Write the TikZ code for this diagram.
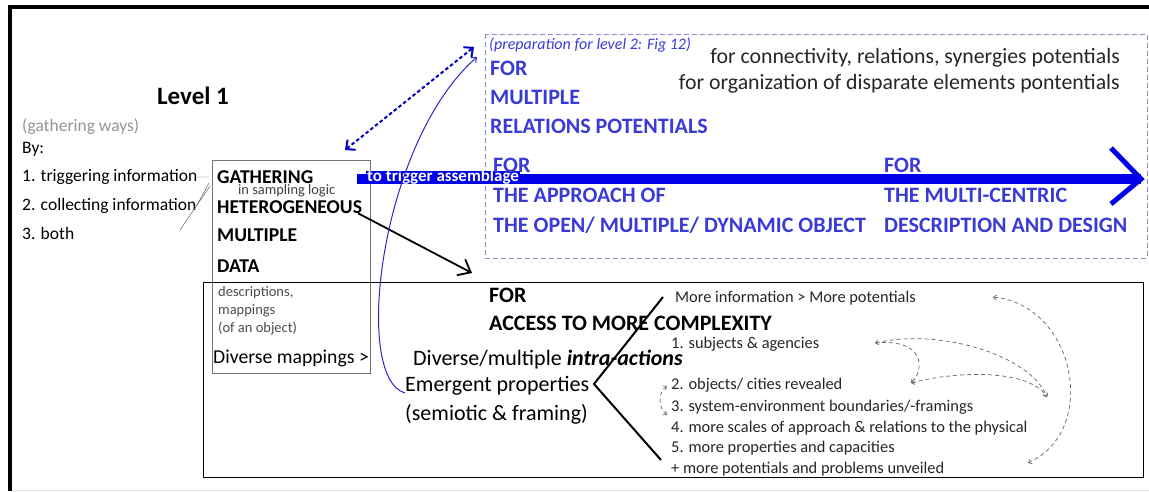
\documentclass[tikz,border=0pt]{standalone}
\usepackage{fontspec}
\setmainfont{Carlito}
\usetikzlibrary{arrows.meta,positioning,calc}
\definecolor{barblue}{RGB}{0,0,232}
\definecolor{capblue}{RGB}{58,58,214}
\definecolor{boxdash}{RGB}{140,140,200}
\definecolor{curveblue}{RGB}{40,40,200}
\tikzset{
    txt/.style={anchor=base west, inner sep=0pt, font=\fontsize{17.5}{20}\selectfont},
    caps/.style={txt, font=\fontsize{22}{25}\selectfont\bfseries},
    bluecaps/.style={caps, text=capblue},
    smalltxt/.style={txt, font=\fontsize{14.5}{17}\selectfont, text=black!70},
    itemtxt/.style={txt, font=\fontsize{16.4}{19}\selectfont, text=black!85},
    bigtxt/.style={txt, font=\fontsize{22}{25}\selectfont},
    hint/.style={thin, black!70},
    link/.style={-{Straight Barb[length=11pt, width=18pt]}, line width=1.8pt},
    relarc/.style={{Straight Barb[length=3pt,width=5pt]}-{Straight Barb[length=3pt,width=5pt]}, dash pattern=on 4pt off 3pt, black!60, line width=0.7pt},
    relarcone/.style={relarc, -{Straight Barb[length=3pt,width=5pt]}}
}
\begin{document}
\begin{tikzpicture}[x=1pt, y=-1pt]
    \useasboundingbox (0,0) rectangle (1149,492);
    % frame
    \draw[line width=4pt] (10,491) -- (10,7) -- (1149,7);
    \draw[black!12, line width=1pt] (12,490.5) -- (1149,490.5);

    % level 1, gathering ways
    \node[txt, anchor=base, font=\fontsize{25}{29}\selectfont\bfseries] (lvl) at (193,105) {Level 1};
    \node[txt, text=black!42] (ways) at (22,131.5) {(gathering ways)};
    \node[txt] (by) at (22,153.5) {By:};
    \node[txt] (way1) at (22,181.5) {1. triggering information};
    \node[txt] (way2) at (22,210.5) {2. collecting information};
    \node[txt] (way3) at (22,239.5) {3. both};

    % boxes
    \node[draw=black!55, line width=1pt, anchor=north west, inner sep=0pt,
          minimum width=158pt, minimum height=213pt] (gbox) at (212,160) {};
    \node[draw, line width=1.2pt, anchor=north west, inner sep=0pt,
          minimum width=940pt, minimum height=195pt] (lbox) at (203,282) {};
    \draw[boxdash, line width=0.9pt, dash pattern=on 5pt off 3pt] (485,34) rectangle (1147,258);

    \node[caps, font=\fontsize{19.6}{22}\selectfont\bfseries] (gath) at (217,183) {GATHERING};
    \node[txt, font=\fontsize{14.4}{16}\selectfont, text=black!75] (samp) at (238,194.5) {in sampling logic};
    \node[caps, font=\fontsize{19.6}{22}\selectfont\bfseries] (hetero) at (217,213) {HETEROGENEOUS};
    \node[caps, font=\fontsize{19.6}{22}\selectfont\bfseries] (multi) at (217,241) {MULTIPLE};
    \node[caps, font=\fontsize{19.6}{22}\selectfont\bfseries] (data) at (217,272) {DATA};
    \node[smalltxt] (desc) at (218,296.5) {descriptions,};
    \node[smalltxt] (mapp) at (218,314.5) {mappings};
    \node[smalltxt] (obj) at (218,332.5) {(of an object)};
    \node[txt, font=\fontsize{19.7}{22}\selectfont] (divm) at (213,363) {Diverse mappings >};

    \coordinate (g1) at (209,177);
    \coordinate (g2) at (209,183);
    \coordinate (g3) at (210,186);
    \coordinate (w3) at (180,230);
    \draw[hint] (way1.east) -- (g1);
    \draw[hint] (way2.east) -- (g2);
    \draw[hint] (w3) -- (g3);

    % blue bar
    \coordinate (barstart) at (357,179);
    \coordinate (tip) at (1141,179);
    \draw[barblue, line width=10pt] (barstart) -- (tip);
    \draw[barblue, line width=5pt, miter limit=10] ($(tip)+(-30,-31)$) -- (tip) -- ($(tip)+(-30,25)$);
    \node[anchor=west, fill=barblue, text=white, inner xsep=1pt, inner ysep=0.5pt, yshift=2pt,
          text height=10pt, text depth=1pt,
          font=\fontsize{17}{19}\selectfont\bfseries] (trig) at ([xshift=9pt]barstart) {to trigger assemblage};

    % level 2 box
    \node[txt, font=\fontsize{16}{18}\selectfont\itshape, text=capblue] (prep) at (489,50) {(preparation for level 2: Fig 12)};
    \node[bluecaps] (for1) at (490,76) {FOR};
    \node[bluecaps] (mult2) at (490,105) {MULTIPLE};
    \node[bluecaps] (rel) at (490,134) {RELATIONS POTENTIALS};
    \node[txt, anchor=base east, font=\fontsize{21.8}{25}\selectfont, text=black!85] (conn) at (1120,64) {for connectivity, relations, synergies potentials};
    \node[txt, anchor=base east, font=\fontsize{21.8}{25}\selectfont, text=black!85] (orga) at (1120,90) {for organization of disparate elements pontentials};
    \node[bluecaps] (for2) at (493,173) {FOR};
    \node[bluecaps] (appr) at (493,203) {THE APPROACH OF};
    \node[bluecaps] (open) at (493,232) {THE OPEN/ MULTIPLE/ DYNAMIC OBJECT};
    \node[bluecaps] (for3) at (884,173) {FOR};
    \node[bluecaps] (mcen) at (884,203) {THE MULTI-CENTRIC};
    \node[bluecaps] (desi) at (884,232) {DESCRIPTION AND DESIGN};

    % lower box
    \node[caps] (for4) at (489,302) {FOR};
    \node[caps] (acc) at (489,330) {ACCESS TO MORE COMPLEXITY};
    \node[bigtxt] (intra) at (413,365) {Diverse/multiple \textbf{\textit{intra-actions}}};
    \node[bigtxt] (emerg) at (405,391) {Emergent properties};
    \node[bigtxt] (semio) at (405,420) {(semiotic \& framing)};

    \node[itemtxt] (more) at (675,302) {More information > More potentials};
    \node[itemtxt] (it1) at (671,348) {1. subjects \& agencies};
    \node[itemtxt] (it2) at (671,389) {2. objects/ cities revealed};
    \node[itemtxt] (it3) at (671,411) {3. system-environment boundaries/-framings};
    \node[itemtxt] (it4) at (671,432) {4. more scales of approach \& relations to the physical};
    \node[itemtxt] (it5) at (671,452) {5. more properties and capacities};
    \node[itemtxt] (it6) at (671,473) {+ more potentials and problems unveiled};

    % bracket
    \coordinate (br1) at (663,297);
    \coordinate (brv) at (594,384);
    \coordinate (br2) at (661,460);
    \draw[line width=2pt] (br1) -- (brv) -- (br2);

    % arrows between the levels
    \coordinate (dlow) at (345,150);
    \coordinate (dhigh) at (474,47);
    \draw[barblue!85!black, line width=2pt, dash pattern=on 3.5pt off 2.5pt,
          {Straight Barb[length=7pt,width=13pt]}-{Straight Barb[length=7pt,width=13pt]}] (dlow) -- (dhigh);
    \coordinate (forpt) at (472,273);
    \draw[link] ([xshift=-4pt]hetero.south east) -- (forpt);
    \coordinate (cstart) at (405,393);
    \coordinate (cend) at (477,57);
    \draw[curveblue, line width=1pt, -{Straight Barb[length=4pt,width=7pt]}] (cstart) .. controls (352,378) and (380,142) .. (cend);

    % relation arcs
    \coordinate (a1) at (993,297);
    \coordinate (a2) at (1028,463);
    \draw[relarc] (a1) .. controls (1075,305) and (1100,430) .. (a2);
    \coordinate (pa) at (875,343);
    \coordinate (pb) at (911,383);
    \coordinate (pc) at (1047,397);
    \draw[relarc] (pa) .. controls (940,328) and (1030,355) .. (pc);
    \draw[relarcone] (pa) .. controls (925,338) and (925,370) .. (pb);
    \draw[relarc] (pb) .. controls (960,370) and (1030,370) .. (pc);
    \coordinate (s1) at (667,386);
    \coordinate (s2) at (667,415);
    \draw[relarc] (s1) .. controls (658,392) and (658,408) .. (s2);
\end{tikzpicture}
\end{document}
